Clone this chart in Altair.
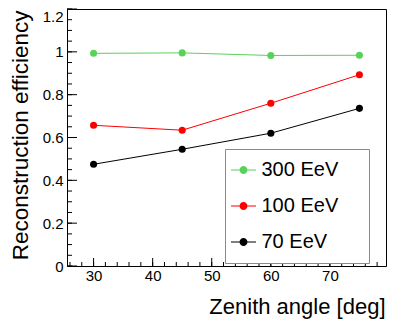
import altair as alt
import pandas as pd

# ---- data ----
zenith = [30, 45, 60, 75]
eff_300 = [0.993, 0.995, 0.983, 0.984]
eff_100 = [0.657, 0.634, 0.760, 0.893]
eff_70 = [0.475, 0.545, 0.620, 0.736]
series = ["300 EeV", "100 EeV", "70 EeV"]
colors = ["#5ad25a", "#ff0000", "#000000"]

x_major = [30, 40, 50, 60, 70]
x_minor = [26, 28, 30, 32, 34, 36, 38, 40, 42, 44, 46, 48, 50, 52, 54, 56,
           58, 60, 62, 64, 66, 68, 70, 72, 74, 76, 78]
y_major = [0, 0.2, 0.4, 0.6, 0.8, 1.0, 1.2]
y_minor = [0, 0.05, 0.1, 0.15, 0.2, 0.25, 0.3, 0.35, 0.4, 0.45, 0.5, 0.55,
           0.6, 0.65, 0.7, 0.75, 0.8, 0.85, 0.9, 0.95, 1.0, 1.05, 1.1, 1.15, 1.2]

rows = []
for name, vals in zip(series, [eff_300, eff_100, eff_70]):
    for z, v in zip(zenith, vals):
        rows.append({"x": z, "y": v, "s": name, "line": name})
df = pd.DataFrame(rows)

FONT = "Liberation Sans"
W, H = 319, 257

xscale = alt.Scale(domain=[25.5, 79.5], nice=False, zero=False)
yscale = alt.Scale(domain=[0, 1.2], nice=False, zero=False)

xaxis = alt.Axis(values=x_major, format="d", title="Zenith angle [deg]",
                 ticks=False, tickSize=0, domain=False, grid=False,
                 labelFont=FONT, labelFontSize=15, labelColor="black",
                 labelPadding=2, labelFlush=False,
                 titleFont=FONT, titleFontSize=22, titleFontWeight="normal",
                 titleColor="black", titleAlign="right", titleBaseline="alphabetic",
                 titleX=318, titleY=47)
yaxis = alt.Axis(values=y_major, format="~g", title="Reconstruction efficiency",
                 ticks=False, tickSize=0, domain=False, grid=False,
                 labelFont=FONT, labelFontSize=15, labelColor="black",
                 labelPadding=4, labelFlush=False, labelBaseline="middle",
                 labelOffset={"condition": {"test": "datum.value >= 1.15", "value": 7.5},
                              "value": 0},
                 titleFont=FONT, titleFontSize=22.5, titleFontWeight="normal",
                 titleColor="black", titleAngle=270, titleAlign="right",
                 titleBaseline="alphabetic", titleX=-40, titleY=1)

X = alt.X("x:Q", scale=xscale, axis=xaxis)
Y = alt.Y("y:Q", scale=yscale, axis=yaxis)

# legend symbol: line with a dot, drawn as filled shapes
sym = ("M-0.968,-0.032H-0.419V0.032H-0.968Z "
       "M0.097,-0.032H0.645V0.032H0.097Z "
       "M-0.419,0A0.258,0.258,0,1,0,0.097,0A0.258,0.258,0,1,0,-0.419,0Z")

legend = alt.Legend(orient="none", legendX=158, legendY=140, title=None,
                    padding=5.5, symbolType=sym, symbolSize=961,
                    symbolStrokeWidth=0, symbolOpacity=1,
                    labelFont=FONT, labelFontSize=20, labelColor="black",
                    labelOffset=0, labelBaseline="middle", rowPadding=10)

cscale = alt.Scale(domain=series, range=colors)
lscale = alt.Scale(domain=series, range=colors)

lines = alt.Chart(df).mark_line(strokeWidth=1).encode(
    x=X, y=Y, stroke=alt.Stroke("line:N", scale=lscale, legend=None))
points = alt.Chart(df).mark_point(filled=True, size=50, opacity=1, strokeWidth=0).encode(
    x=X, y=Y, fill=alt.Fill("s:N", scale=cscale, legend=legend))

xmaj = alt.Chart(pd.DataFrame({"x": x_major})).mark_rule(color="black", strokeWidth=1).encode(
    x=X, y=alt.value(H), y2=alt.value(H - 8))
xmin = alt.Chart(pd.DataFrame({"x": x_minor})).mark_rule(color="black", strokeWidth=1).encode(
    x=X, y=alt.value(H), y2=alt.value(H - 4))
ymaj = alt.Chart(pd.DataFrame({"y": y_major})).mark_rule(color="black", strokeWidth=1).encode(
    y=Y, x=alt.value(0), x2=alt.value(10))
ymin = alt.Chart(pd.DataFrame({"y": y_minor})).mark_rule(color="black", strokeWidth=1).encode(
    y=Y, x=alt.value(0), x2=alt.value(5))

# legend frame (opaque box, as in the original)
legend_box = alt.Chart(pd.DataFrame({"k": [0]})).mark_rect(
    fill="white", stroke="#8a8a8a", strokeWidth=1
).encode(x=alt.value(158.5), x2=alt.value(302.5), y=alt.value(140.5), y2=alt.value(254.5))

chart = alt.layer(xmaj, xmin, ymaj, ymin, lines, points, legend_box).resolve_scale(
    fill="independent", stroke="independent"
).properties(
    width=W, height=H,
    autosize="none",
    padding={"left": 59, "top": 1, "right": 5, "bottom": 54},
    background="white",
).configure_view(stroke="black", strokeWidth=1)

chart.save("out.html", embed_options={"renderer": "svg", "actions": False})
